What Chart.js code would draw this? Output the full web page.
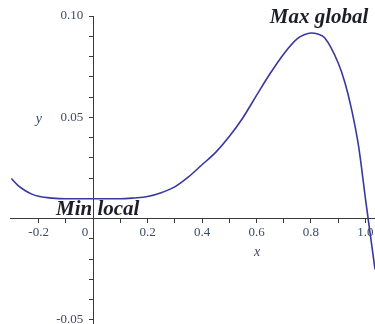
<!DOCTYPE html>
<html>
<head>
<meta charset="utf-8">
<script src="https://cdn.jsdelivr.net/npm/chart.js@4/dist/chart.umd.min.js"></script>
<style>
  html, body { margin: 0; padding: 0; background: #fff; }
  #wrap { width: 375px; height: 324px; }
</style>
</head>
<body>
<div id="wrap"><canvas id="plot"></canvas></div>
<script>
// Curve: x values and matching y values
var xValues = [-0.30, -0.275, -0.25, -0.225, -0.20, -0.15, -0.10, -0.05, 0.00, 0.05, 0.10, 0.15,
               0.20, 0.25, 0.30, 0.35, 0.40, 0.45, 0.50, 0.55, 0.60, 0.65,
               0.70, 0.75, 0.775, 0.80, 0.825, 0.85, 0.90, 0.925, 0.95, 0.975, 1.00, 1.035];
var yValues = [0.0198, 0.0163, 0.0139, 0.0121, 0.0110, 0.0101, 0.0098, 0.0098, 0.0098, 0.0098, 0.0098, 0.0102,
               0.0109, 0.0128, 0.0157, 0.0206, 0.0266, 0.0327, 0.0405, 0.0498, 0.0608, 0.0716,
               0.0813, 0.0888, 0.0907, 0.0916, 0.0911, 0.0893, 0.0768, 0.0669, 0.0533, 0.0355, 0.0098, -0.0250];

// tick labels
var xTickLabels = { '-0.2': '-0.2', '0': '0', '0.2': '0.2', '0.4': '0.4', '0.6': '0.6', '0.8': '0.8', '1': '1.0' };
var yTickLabels = { '0.1': '0.10', '0.05': '0.05', '-0.05': '-0.05' };

// text notes: [text, x, y]
var notes = [
    ['Max global', 0.649, 0.0963],
    ['Min local', -0.136, 0.0017]
];
var axisNames = [
    ['x', 0.602, -0.0166],
    ['y', -0.199, 0.0488]
];

var inkBlue = '#38399e';
var tickInk = '#3d4a66';
var axisInk = '#3a3a3a';

var points = xValues.map(function (x, i) { return { x: x, y: yValues[i] }; });

function key(v, f) { return String(Math.round(v * f) / f); }

// centred axes should not take extra room for their end labels
function noPadding(scale) {
    scale.paddingLeft = 0;
    scale.paddingRight = 0;
    scale.paddingTop = 0;
    scale.paddingBottom = 0;
}

var notesPlugin = {
    id: 'notes',
    afterDatasetsDraw: function (chart) {
        var ctx = chart.ctx;
        var sx = chart.scales.x, sy = chart.scales.y;
        ctx.save();
        ctx.fillStyle = '#1e1e2a';
        ctx.font = 'italic bold 21px "Liberation Serif", serif';
        ctx.textAlign = 'left';
        ctx.textBaseline = 'alphabetic';
        notes.forEach(function (n) {
            ctx.fillText(n[0], sx.getPixelForValue(n[1]), sy.getPixelForValue(n[2]));
        });
        ctx.fillStyle = tickInk;
        ctx.font = 'italic 14px "Liberation Serif", serif';
        ctx.textAlign = 'center';
        ctx.textBaseline = 'middle';
        axisNames.forEach(function (n) {
            ctx.fillText(n[0], sx.getPixelForValue(n[1]), sy.getPixelForValue(n[2]));
        });
        ctx.restore();
    }
};

new Chart(document.getElementById('plot').getContext('2d'), {
    type: 'scatter',
    data: {
        datasets: [{
            data: points,
            showLine: true,
            borderColor: inkBlue,
            borderWidth: 1.6,
            pointRadius: 0,
            cubicInterpolationMode: 'monotone',
            clip: false
        }]
    },
    options: {
        responsive: true,
        maintainAspectRatio: false,
        animation: false,
        layout: { padding: { left: 10, right: 0, top: 16, bottom: 0 } },
        plugins: { legend: { display: false }, tooltip: { enabled: false } },
        scales: {
            x: {
                type: 'linear',
                position: { y: 0 },
                min: -0.305,
                max: 1.035,
                afterFit: noPadding,
                border: { display: true, color: axisInk, width: 1 },
                grid: {
                    drawOnChartArea: false,
                    drawTicks: true,
                    tickLength: 4,
                    tickColor: function (c) { return c.tick && c.tick.value < -0.25 ? 'rgba(0,0,0,0)' : axisInk; }
                },
                ticks: {
                    stepSize: 0.1,
                    includeBounds: false,
                    autoSkip: false,
                    maxRotation: 0,
                    padding: 2,
                    color: tickInk,
                    font: { family: '"Liberation Serif", serif', size: 13 },
                    callback: function (v) {
                        var k = key(v, 10);
                        if (k === '0') return '0     ';
                        return xTickLabels[k] || '';
                    }
                }
            },
            y: {
                type: 'linear',
                position: { x: 0 },
                min: -0.052,
                max: 0.10,
                afterFit: noPadding,
                border: { display: true, color: axisInk, width: 1 },
                grid: { drawOnChartArea: false, drawTicks: true, tickLength: 4, tickColor: axisInk },
                ticks: {
                    stepSize: 0.01,
                    includeBounds: false,
                    autoSkip: false,
                    color: tickInk,
                    font: { family: '"Liberation Serif", serif', size: 13 },
                    callback: function (v) {
                        var lab = yTickLabels[key(v, 100)];
                        return lab ? lab + '   ' : '';
                    }
                }
            }
        }
    },
    plugins: [notesPlugin]
});
</script>
</body>
</html>
